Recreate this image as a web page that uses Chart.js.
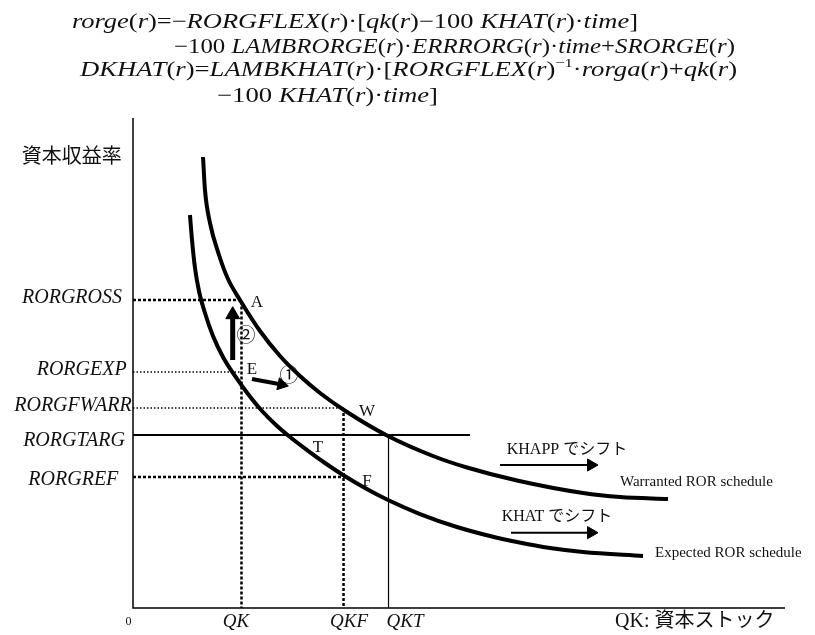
<!DOCTYPE html>
<html>
<head>
<meta charset="utf-8">
<script src="https://cdn.jsdelivr.net/npm/chart.js@4"></script>
<style>html,body{margin:0;padding:0;background:#fff}</style>
</head>
<body>
<canvas id="chart" width="815" height="635"></canvas>
<script>
// schedules; x = capital stock, y = rate of return (0-100 scale)
const warrantedX = [10.74, 11.04, 11.81, 13.19, 14.57, 16.41, 19.48, 22.55, 25.61, 28.68, 32.82, 39.11, 46.01, 51.23, 58.90, 69.02, 74.69, 82.06];
const warrantedY = [92.04, 85.31, 78.57, 72.04, 67.14, 62.86, 56.53, 51.43, 47.35, 43.88, 40.00, 35.10, 31.02, 28.67, 26.02, 23.47, 22.65, 22.24];
const expectedX = [8.74, 9.05, 9.51, 10.12, 11.04, 12.27, 13.80, 15.64, 17.64, 19.79, 21.93, 24.08, 26.69, 29.45, 32.21, 35.58, 39.11, 44.02, 49.69, 54.75, 58.90, 63.96, 69.02, 78.22];
const expectedY = [80.20, 75.10, 69.39, 64.69, 60.20, 55.51, 51.22, 47.35, 43.67, 40.20, 37.35, 34.90, 32.24, 29.59, 27.14, 24.49, 22.04, 19.18, 16.53, 14.69, 13.47, 12.24, 11.43, 10.61];

// rate-of-return levels on the vertical axis
const levelLabels = ['RORGROSS', 'RORGEXP', 'RORGFWARR', 'RORGTARG', 'RORGREF'];
const levelValues = [62.86, 48.16, 40.82, 35.31, 26.73];
const levelLabelX = [-1.69, -0.97, -0.2, -1.23, -2.25];
const levelLabelY = [63.37, 48.71, 41.22, 34.18, 26.27];

// capital stock levels on the horizontal axis
const qkLabels = ['QK', 'QKF', 'QKT'];
const qkValues = [16.64, 32.29, 39.19];
const qkLabelX = [15.8, 33.13, 41.72];
const targetEnd = 51.69;

// point letters and step markers
const markNames = ['A', 'E', 'W', 'T', 'F', '②', '①'];
const markX = [19.02, 18.25, 35.89, 28.37, 35.89, 17.33, 23.93];
const markY = [62.24, 48.57, 40.0, 32.65, 25.71, 55.71, 47.55];

// arrows: [x0, y0, x1, y1]
const arrowUp = [15.29, 50.61, 15.29, 59.86];
const arrowRight = [18.25, 46.73, 22.78, 45.61];
const arrowKhapp = [56.29, 29.18, 70.25, 29.18];
const arrowKhat = [57.98, 15.37, 70.25, 15.37];

const formulaLines = [
  'rorge(r)=−RORGFLEX(r)·[qk(r)−100 KHAT(r)·time]',
  '−100 LAMBRORGE(r)·ERRRORG(r)·time+SRORGE(r)',
  'DKHAT(r)=LAMBKHAT(r)·[RORGFLEX(r)^{−1}·rorga(r)+qk(r)',
  '−100 KHAT(r)·time]'
];
const formulaLeft = [-9.36, 6.29, -8.13, 12.88];
const formulaRight = [77.45, 92.33, 92.64, 46.78];
const formulaBase = [118.37, 113.27, 108.57, 103.27];

const pts = (xs, ys) => xs.map((x, i) => ({x: x, y: ys[i]}));
const seg = (a) => [{x: a[0], y: a[1]}, {x: a[2], y: a[3]}];

function line(data, width, dash) {
  return {data: data, showLine: true, borderColor: '#000', borderWidth: width,
    borderDash: dash || [], pointRadius: 0, clip: false, tension: 0};
}
function curve(data) {
  const d = line(data, 4);
  d.cubicInterpolationMode = 'monotone';
  return d;
}
function arrow(a, width, head, rot) {
  const d = line(seg(a), width);
  d.pointRadius = [0, head];
  d.pointStyle = 'triangle';
  d.pointRotation = [0, rot];
  d.pointBackgroundColor = '#000';
  d.pointBorderColor = '#000';
  d.pointBorderWidth = 1;
  return d;
}

const thickDot = [3, 2];
const thinDot = [1.5, 2];

const datasets = [
  line([{x: 0, y: 100}, {x: 0, y: 0}, {x: 100, y: 0}], 1.5),
  curve(pts(warrantedX, warrantedY)),
  curve(pts(expectedX, expectedY)),
  line([{x: 0, y: levelValues[0]}, {x: qkValues[0], y: levelValues[0]}, {x: qkValues[0], y: 0}], 2.5, thickDot),
  line([{x: 0, y: levelValues[1]}, {x: qkValues[0], y: levelValues[1]}], 1.3, thinDot),
  line([{x: 0, y: levelValues[2]}, {x: qkValues[1], y: levelValues[2]}], 1.3, thinDot),
  line([{x: qkValues[1], y: levelValues[2]}, {x: qkValues[1], y: 0}], 2.5, thickDot),
  line([{x: 0, y: levelValues[4]}, {x: qkValues[1], y: levelValues[4]}], 2.5, thickDot),
  line([{x: 0, y: levelValues[3]}, {x: targetEnd, y: levelValues[3]}], 2),
  line([{x: qkValues[2], y: levelValues[3]}, {x: qkValues[2], y: 0}], 1.2),
  arrow(arrowUp, 5, 8, 0),
  arrow(arrowRight, 4, 7, 102),
  arrow(arrowKhapp, 2, 7, 90),
  arrow(arrowKhat, 2, 7, 90)
];

const IT = "italic 21px 'Liberation Serif'";
const UP = "21px 'Liberation Serif'";
const SUP = "13px 'Liberation Serif'";

function parseMath(s) {
  const out = [];
  let i = 0;
  while (i < s.length) {
    if (s.startsWith('^{', i)) {
      const j = s.indexOf('}', i);
      out.push({t: s.slice(i + 2, j), font: SUP, dy: -9});
      i = j + 1;
      continue;
    }
    const c = s[i];
    const f = /[A-Za-z]/.test(c) ? IT : UP;
    const last = out[out.length - 1];
    if (last && last.font === f && last.dy === 0) last.t += c;
    else out.push({t: c, font: f, dy: 0});
    i++;
  }
  return out;
}

const textPlugin = {
  id: 'texts',
  afterDatasetsDraw(chart) {
    const ctx = chart.ctx;
    const sx = chart.scales.x, sy = chart.scales.y;
    const X = (v) => sx.getPixelForValue(v);
    const Y = (v) => sy.getPixelForValue(v);
    const put = (t, x, y, font, align) => {
      ctx.font = font;
      ctx.textAlign = align || 'left';
      ctx.fillText(t, X(x), Y(y));
    };
    ctx.save();
    ctx.fillStyle = '#111';
    ctx.textBaseline = 'middle';

    put('資本収益率', -17.07, 92.45, "20px 'Noto Sans CJK JP'");
    levelLabels.forEach((t, i) => put(t, levelLabelX[i], levelLabelY[i], "italic 20px 'Liberation Serif'", 'right'));
    qkLabels.forEach((t, i) => put(t, qkLabelX[i], -2.86, "italic 19px 'Liberation Serif'", 'center'));
    put('0', -0.69, -2.86, "12px 'Liberation Serif'", 'center');
    put('QK: 資本ストック', 73.93, -2.86, "20px 'Liberation Serif', 'Noto Sans CJK JP'");

    markNames.forEach((t, i) => {
      const f = i < 5 ? "17px 'Liberation Serif'" : "19px 'Noto Sans CJK JP'";
      put(t, markX[i], markY[i], f, 'center');
    });

    put('KHAPP でシフト', 57.32, 32.24, "16px 'Liberation Serif', 'Noto Sans CJK JP'");
    put('KHAT でシフト', 56.55, 18.63, "16px 'Liberation Serif', 'Noto Sans CJK JP'");
    put('Warranted ROR schedule', 74.69, 25.78, "15px 'Liberation Serif'");
    put('Expected ROR schedule', 80.06, 11.16, "15px 'Liberation Serif'");

    // formula above the diagram
    ctx.textBaseline = 'alphabetic';
    ctx.textAlign = 'left';
    formulaLines.forEach((s, k) => {
      const segs = parseMath(s);
      let total = 0;
      segs.forEach(g => { ctx.font = g.font; g.w = ctx.measureText(g.t).width; total += g.w; });
      const left = X(formulaLeft[k]);
      const scale = (X(formulaRight[k]) - left) / total;
      ctx.save();
      ctx.translate(left, Y(formulaBase[k]));
      ctx.scale(scale, 1);
      let x = 0;
      segs.forEach(g => { ctx.font = g.font; ctx.fillText(g.t, x, g.dy); x += g.w; });
      ctx.restore();
    });
    ctx.restore();
  }
};

new Chart(document.getElementById('chart'), {
  type: 'scatter',
  data: {datasets: datasets},
  options: {
    responsive: false,
    animation: false,
    devicePixelRatio: 1,
    layout: {padding: {left: 133, right: 30, top: 118, bottom: 27}},
    plugins: {legend: {display: false}, tooltip: {enabled: false}},
    scales: {
      x: {type: 'linear', min: 0, max: 100, display: false},
      y: {type: 'linear', min: 0, max: 100, display: false}
    }
  },
  plugins: [textPlugin]
});
</script>
</body>
</html>
